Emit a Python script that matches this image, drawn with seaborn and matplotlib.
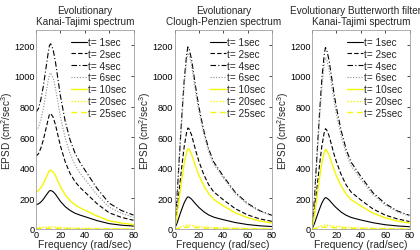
import numpy as np
import matplotlib
matplotlib.use("Agg")
import matplotlib.pyplot as plt
import seaborn as sns

# frequency grid (rad/sec)
freq = [0, 2, 4, 6, 8, 10, 11, 12, 14, 16, 18, 20, 24, 28, 32, 36, 40, 50, 60, 70, 80]

# Evolutionary Kanai-Tajimi spectrum
kt_t1 = [159, 164, 176, 194, 217, 239, 249, 252, 244, 227, 204, 181, 146, 121, 103, 91, 81, 55, 35, 25, 19]
kt_t2 = [476, 491, 529, 581, 649, 717, 747, 755, 732, 680, 612, 544, 438, 362, 310, 272, 242, 166, 106, 76, 57]
kt_t4 = [762, 787, 847, 932, 1041, 1150, 1198, 1210, 1174, 1089, 980, 871, 702, 581, 496, 436, 387, 266, 169, 121, 91]
kt_t6 = [643, 663, 714, 785, 877, 969, 1010, 1020, 989, 918, 826, 734, 592, 490, 418, 367, 326, 224, 143, 102, 77]
kt_t10 = [243, 250, 270, 296, 331, 366, 381, 385, 373, 347, 312, 277, 223, 185, 158, 139, 123, 85, 54, 39, 29]
kt_t20 = [9, 9, 10, 11, 12, 13, 14, 14, 14, 13, 11, 10, 8, 7, 6, 5, 4.5, 3, 2, 1.4, 1]
kt_t25 = [3, 3.3, 3.5, 3.9, 4.3, 4.8, 5, 5, 4.9, 4.5, 4, 3.6, 2.9, 2.4, 2, 1.8, 1.6, 1.1, 0.7, 0.5, 0.4]

# Evolutionary Clough-Penzien spectrum
cp_t1 = [0, 36, 84, 130, 172, 202, 210, 208, 195, 176, 158, 141, 113, 92, 78, 69, 61, 42, 29, 21, 16]
cp_t2 = [0, 112, 264, 409, 541, 634, 660, 653, 614, 554, 495, 442, 356, 290, 244, 218, 191, 132, 92, 66, 50]
cp_t4 = [0, 202, 476, 738, 976, 1142, 1190, 1178, 1107, 1000, 893, 797, 643, 524, 440, 393, 345, 238, 167, 119, 89]
cp_t6 = [0, 196, 460, 713, 943, 1104, 1150, 1139, 1070, 966, 863, 771, 621, 506, 426, 380, 334, 230, 161, 115, 86]
cp_t10 = [0, 89, 210, 326, 431, 504, 525, 520, 488, 441, 394, 352, 284, 231, 194, 173, 152, 105, 74, 53, 39]
cp_t20 = [0, 4, 10, 16, 21, 24, 25, 25, 23, 21, 19, 17, 14, 11, 9, 8, 7, 5, 3.5, 2.5, 2]
cp_t25 = [0, 2, 5, 7, 10, 11.5, 12, 12, 11, 10, 9, 8, 6.5, 5.3, 4.4, 4, 3.5, 2.4, 1.7, 1.2, 0.9]

# Evolutionary Butterworth filtered Kanai-Tajimi spectrum
bw_t1 = [0, 35, 82, 127, 168, 197, 205, 203, 190, 172, 154, 138, 110, 90, 76, 67, 59, 41, 28, 20, 15]
bw_t2 = [0, 111, 262, 406, 537, 629, 655, 648, 609, 550, 491, 439, 354, 288, 242, 216, 190, 131, 91, 66, 49]
bw_t4 = [0, 201, 474, 735, 972, 1138, 1185, 1173, 1102, 995, 889, 794, 640, 521, 438, 391, 344, 237, 166, 118, 89]
bw_t6 = [0, 190, 448, 694, 918, 1075, 1120, 1109, 1042, 941, 840, 750, 605, 493, 414, 370, 325, 224, 157, 112, 84]
bw_t10 = [0, 88, 208, 322, 426, 499, 520, 515, 484, 437, 390, 348, 281, 229, 192, 172, 151, 104, 73, 52, 39]
bw_t20 = [0, 4, 10, 16, 21, 24, 25, 25, 23, 21, 19, 17, 14, 11, 9, 8, 7, 5, 3.5, 2.5, 2]
bw_t25 = [0, 2, 5, 7, 10, 11.5, 12, 12, 11, 10, 9, 8, 6.5, 5.3, 4.4, 4, 3.5, 2.4, 1.7, 1.2, 0.9]

labels = ["t= 1sec", "t= 2sec", "t= 4sec", "t= 6sec", "t= 10sec", "t= 20sec", "t= 25sec"]
titles = ["Evolutionary\nKanai-Tajimi spectrum",
          "Evolutionary\nClough-Penzien spectrum",
          "Evolutionary Butterworth filtered\nKanai-Tajimi spectrum"]
panels = [[kt_t1, kt_t2, kt_t4, kt_t6, kt_t10, kt_t20, kt_t25],
          [cp_t1, cp_t2, cp_t4, cp_t6, cp_t10, cp_t20, cp_t25],
          [bw_t1, bw_t2, bw_t4, bw_t6, bw_t10, bw_t20, bw_t25]]

colors = ["black", "black", "black", "#8c8c8c", "#f5f500", "#f5f500", "#f5f500"]
styles = ["-", (0, (4, 2)), (0, (5, 2, 1, 2)), (0, (1, 1.5)), "-", (0, (1, 1.2)), (0, (4, 3))]
widths = [0.8, 0.8, 0.8, 0.8, 1.0, 1.0, 1.0]

sns.set_style("white")
plt.rcParams["font.family"] = ["Liberation Sans", "DejaVu Sans"]
plt.rcParams["mathtext.fontset"] = "custom"
plt.rcParams["mathtext.rm"] = "Liberation Sans"
plt.rcParams["mathtext.it"] = "Liberation Sans"

fig = plt.figure(figsize=(4.2, 2.51), dpi=100)
lefts = [36, 174.5, 312]
for k in range(3):
    ax = fig.add_axes([lefts[k] / 420, 1 - 230 / 251, 97.5 / 420, 199 / 251])
    for s in range(7):
        sns.lineplot(x=freq, y=panels[k][s], ax=ax, color=colors[s], linestyle=styles[s],
                     linewidth=widths[s], label=labels[s])
    ax.set_xlim(0, 80)
    ax.set_ylim(0, 1300)
    ax.set_xticks([0, 20, 40, 60, 80])
    ax.set_yticks(range(0, 1201, 200))
    ax.tick_params(direction="in", top=True, right=True, length=2.5, width=0.5,
                   labelsize=6.6, pad=1, colors="black")
    for sp in ax.spines.values():
        sp.set_color("#a0a0a0")
        sp.set_linewidth(0.6)
    ax.set_title(titles[k], fontsize=7.2, pad=4, linespacing=1.15)
    ax.set_xlabel("Frequency (rad/sec)", fontsize=7.5, labelpad=0)
    ax.set_ylabel("EPSD (cm$^2$/sec$^3$)", fontsize=7.2)
    ax.yaxis.set_label_coords(-0.218, 0.5)
    ax.legend(loc="upper right", frameon=False, fontsize=7.2, handlelength=1.6,
              handletextpad=0.1, labelspacing=0.18, borderaxespad=0.3)

fig.savefig("out.png", dpi=100)
